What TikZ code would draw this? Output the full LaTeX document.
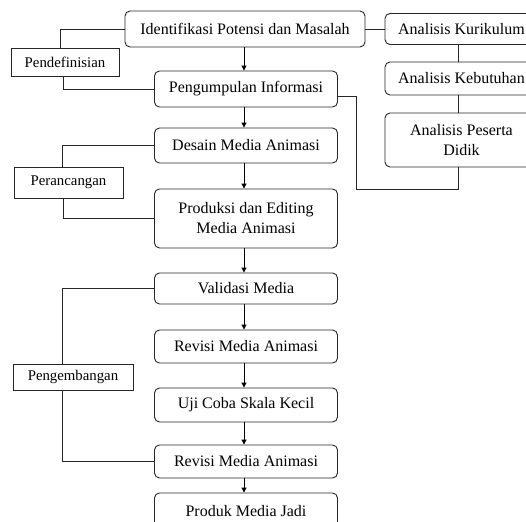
\documentclass[tikz,border=0pt]{standalone}
\usepackage{fontspec}
\setmainfont{Liberation Serif}
\usetikzlibrary{arrows.meta}
\begin{document}
\begin{tikzpicture}[x=1pt,y=1pt,
  mainbox/.style={draw=black!85, line width=0.9pt, rounded corners=5pt, inner sep=0pt, align=center,
    font=\fontsize{16}{20}\selectfont},
  sidebox/.style={draw=black!85, line width=0.9pt, inner sep=0pt, align=center,
    font=\fontsize{14.8}{18}\selectfont},
  link/.style={draw=black!85, line width=0.9pt},
  flow/.style={draw=black, line width=1pt, -{Triangle[width=5pt,length=5pt]}}]
\useasboundingbox (0,0) rectangle (526,-521);
\fill[white] (0,0) rectangle (526,-521);

% main column
\node[mainbox, minimum width=240, minimum height=36] (idp) at (245,-29) {Identifikasi Potensi dan Masalah};
\node[mainbox, minimum width=183, minimum height=36] (peng) at (246,-89) {Pengumpulan Informasi};
\node[mainbox, minimum width=183, minimum height=35] (des) at (246,-145.5) {Desain Media Animasi};
\node[mainbox, minimum width=183, minimum height=59] (prod) at (246,-218.5) {Produksi dan Editing\\Media Animasi};
\node[mainbox, minimum width=183, minimum height=31] (val) at (246,-288.5) {Validasi Media};
\node[mainbox, minimum width=183, minimum height=33] (rev1) at (246,-346.5) {Revisi Media Animasi};
\node[mainbox, minimum width=183, minimum height=34] (uji) at (246,-405) {Uji Coba Skala Kecil};
\node[mainbox, minimum width=183, minimum height=33] (rev2) at (246,-461.5) {Revisi Media Animasi};
\node[mainbox, minimum width=183, minimum height=36] (prj) at (246,-511) {Produk Media Jadi};

% right column
\node[mainbox, minimum width=153, minimum height=31] (kur) at (461.5,-29) {Analisis Kurikulum};
\node[mainbox, minimum width=153, minimum height=33] (keb) at (461.5,-78.5) {Analisis Kebutuhan};
\node[mainbox, minimum width=153, minimum height=54] (pes) at (461.5,-140) {Analisis Peserta\\Didik};

% left labels
\node[sidebox, minimum width=108, minimum height=28] (pend) at (65,-62) {Pendefinisian};
\node[sidebox, minimum width=109, minimum height=31] (peran) at (68.5,-182.5) {Perancangan};
\node[sidebox, minimum width=120, minimum height=26] (pgb) at (73,-377) {Pengembangan};

% arrows
\draw[flow] (idp.south -| 244,0) -- (peng.north -| 244,0);
\draw[flow] (peng.south -| 244,0) -- (des.north -| 244,0);
\draw[flow] (des.south -| 244,0) -- (prod.north -| 244,0);
\draw[flow] (prod.south -| 244,0) -- (val.north -| 244,0);
\draw[flow] (val.south -| 244,0) -- (rev1.north -| 244,0);
\draw[flow] (rev1.south -| 244,0) -- (uji.north -| 244,0);
\draw[flow] (uji.south -| 244,0) -- (rev2.north -| 244,0);
\draw[flow] (rev2.south -| 244,0) -- (prj.north -| 244,0);

% right links
\draw[link] (idp.east) -- (kur.west);
\draw[link] ([xshift=-3.5pt]kur.south) -- ([xshift=-3.5pt]keb.north);
\draw[link] ([xshift=-3.5pt]keb.south) -- ([xshift=-3.5pt]pes.north);
\coordinate (c1) at (356,-189);
\draw[link] ([yshift=-7pt]peng.east) -| (c1) -| ([xshift=-3.5pt]pes.south);

% left links
\draw[link] (idp.west) -| ([xshift=-5pt]pend.north);
\draw[link] ([xshift=-2pt]pend.south) |- (peng.west);
\draw[link] (des.west) -| ([xshift=-6.5pt]peran.north);
\draw[link] ([xshift=-5.5pt]peran.south) |- (prod.west);
\draw[link] (val.west) -| ([xshift=-11pt]pgb.north);
\draw[link] ([xshift=-11pt]pgb.south) |- (rev2.west);
\end{tikzpicture}
\end{document}
